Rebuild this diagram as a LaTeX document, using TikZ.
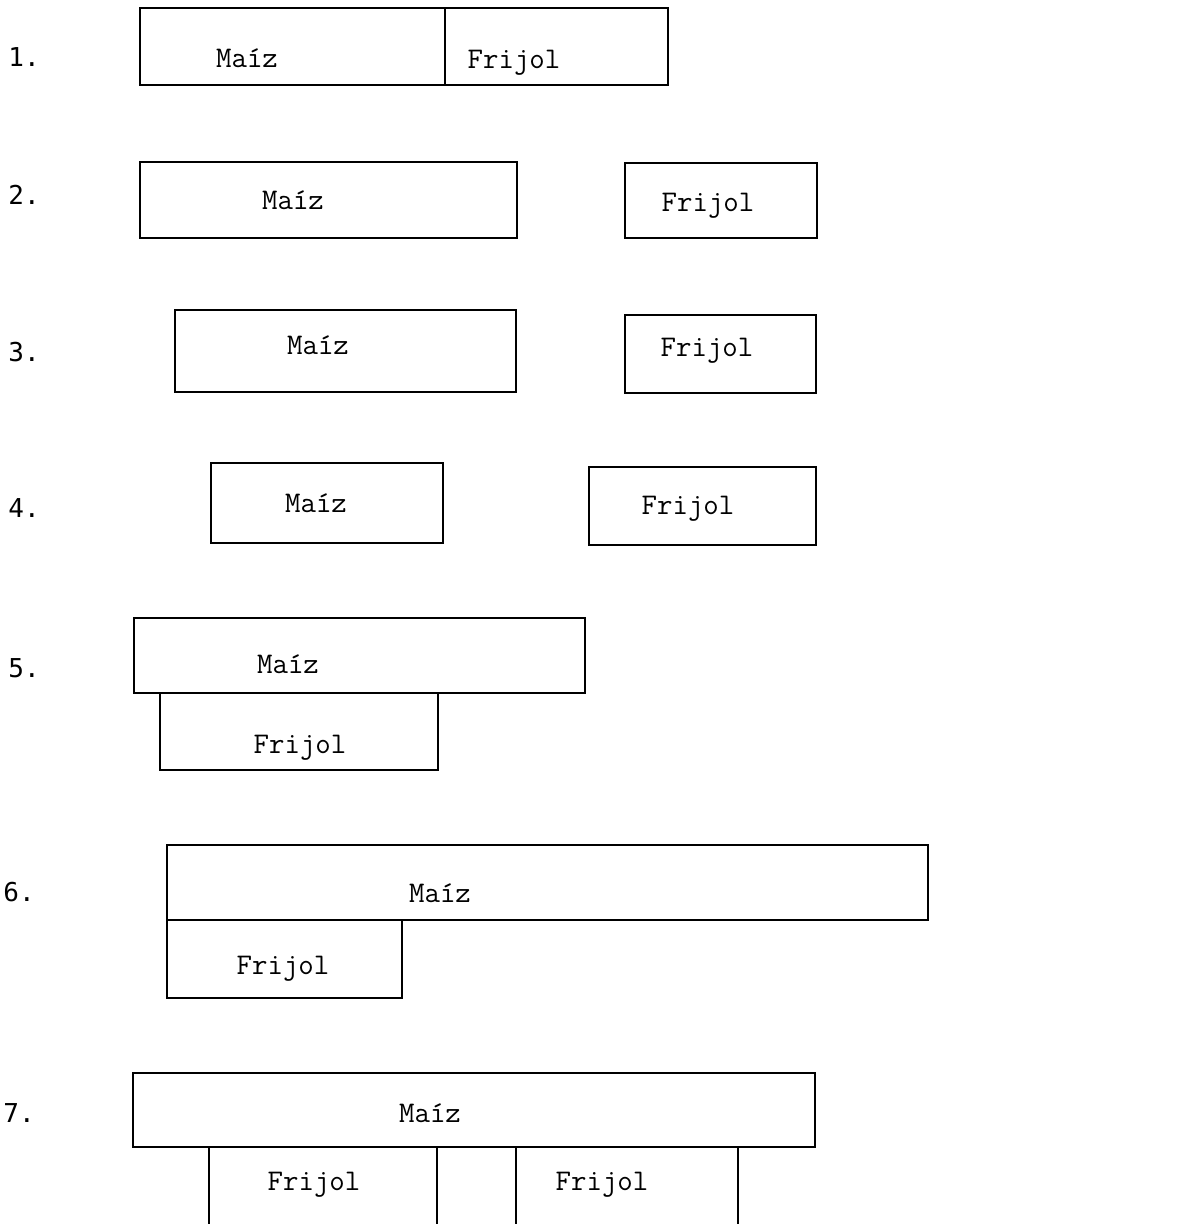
\documentclass[tikz,border=0pt]{standalone}
\usepackage{fontspec}
\newfontfamily\numfont{DejaVu Sans Mono}
\usetikzlibrary{fit}
\begin{document}
\begin{tikzpicture}[x=0.5pt,y=-0.5pt,
  box/.style={draw, line width=0.9pt, inner sep=0pt},
  rule/.style={line width=0.9pt},
  word/.style={font=\ttfamily\fontsize{15}{17}\selectfont, inner sep=0pt},
  num/.style={font=\numfont\fontsize{13}{15}\selectfont, inner sep=0pt, anchor=west}]
\fill[white] (0,0) rectangle (1177,1224);
\useasboundingbox (0,0) rectangle (1177,1224);

% Row 1
\node[num] (n1) at (8,57) {1.};
\node[box, fit={(140,8) (445,85)}] (m1) {};
\node[box, fit={(445,8) (668,85)}] (f1) {};
\node[word] (tm1) at (247,58) {Maíz};
\node[word] (tf1) at (514,63) {Frijol};

% Row 2
\node[num] (n2) at (8,195) {2.};
\node[box, fit={(140,162) (517,238)}] (m2) {};
\node[box, fit={(625,163) (817,238)}] (f2) {};
\node[word] (tm2) at (293,200) {Maíz};
\node[word] (tf2) at (708,206) {Frijol};

% Row 3
\node[num] (n3) at (8,352) {3.};
\node[box, fit={(175,310) (516,392)}] (m3) {};
\node[box, fit={(625,315) (816,393)}] (f3) {};
\node[word] (tm3) at (318,345) {Maíz};
\node[word] (tf3) at (707,351) {Frijol};

% Row 4
\node[num] (n4) at (8,508) {4.};
\node[box, fit={(211,463) (443,543)}] (m4) {};
\node[box, fit={(589,467) (816,545)}] (f4) {};
\node[word] (tm4) at (316,503) {Maíz};
\node[word] (tf4) at (688,509) {Frijol};

% Row 5
\node[num] (n5) at (8,668) {5.};
\node[box, fit={(134,618) (585,693)}] (m5) {};
\node[box, fit={(160,693) (438,770)}] (f5) {};
\node[word] (tm5) at (288,664) {Maíz};
\node[word] (tf5) at (300,748) {Frijol};

% Row 6
\node[num] (n6) at (3,892) {6.};
\node[box, fit={(167,845) (928,920)}] (m6) {};
\node[box, fit={(167,920) (402,998)}] (f6) {};
\node[word] (tm6) at (440,893) {Maíz};
\node[word] (tf6) at (283,969) {Frijol};

% Row 7
\node[num] (n7) at (3,1113) {7.};
\node[box, fit={(133,1073) (815,1147)}] (m7) {};
\node[word] (tm7) at (430,1113) {Maíz};
\node[word] (tf7a) at (314,1185) {Frijol};
\node[word] (tf7b) at (602,1185) {Frijol};
\coordinate (e1) at (209,1224);
\coordinate (e2) at (437,1224);
\coordinate (e3) at (516,1224);
\coordinate (e4) at (738,1224);
\foreach \e in {e1,e2,e3,e4}
  \draw[rule] (\e |- m7.south) -- (\e);
\end{tikzpicture}
\end{document}
